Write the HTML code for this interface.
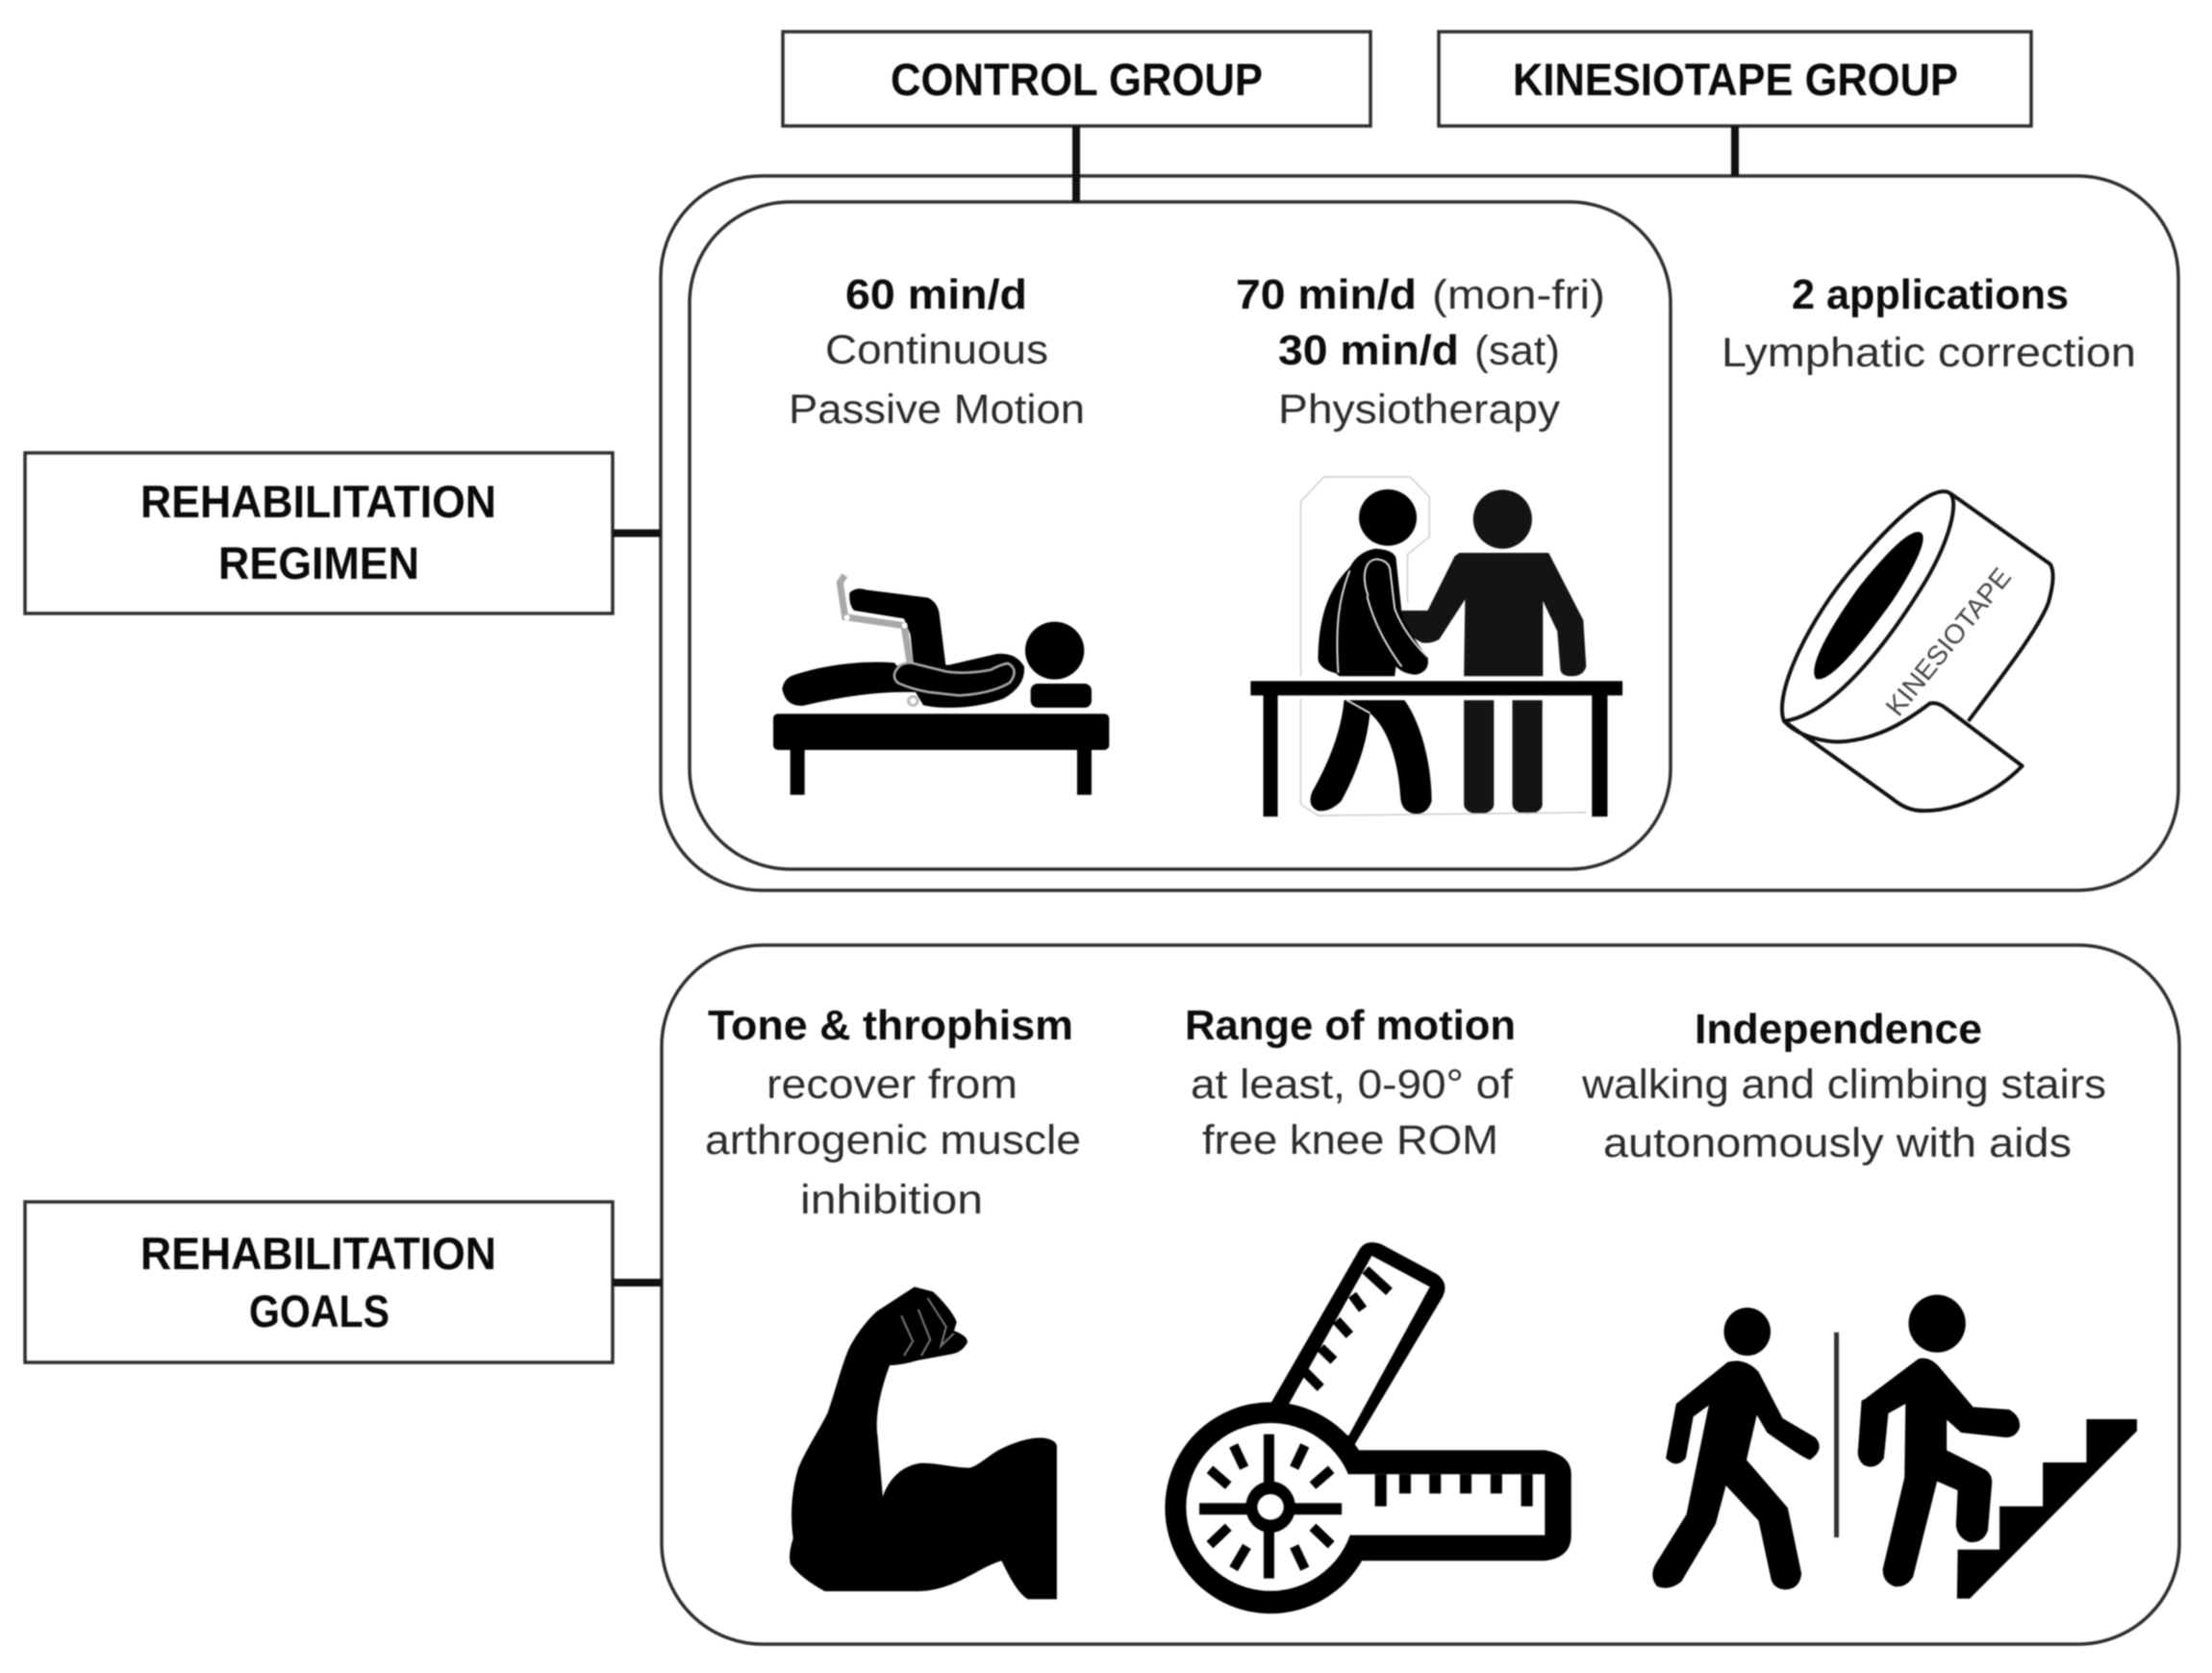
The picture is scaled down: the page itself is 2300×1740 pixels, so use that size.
<!DOCTYPE html>
<html><head><meta charset="utf-8">
<style>
html,body{margin:0;padding:0;background:#fff}
svg{display:block;filter:blur(.9px)}
text{font-family:"Liberation Sans",sans-serif;font-size:43px;fill:#2b2b2b}
.b{font-weight:bold;fill:#0c0c0c;font-size:44px}
.h{font-weight:bold;fill:#0a0a0a;font-size:47px}
.nss{vector-effect:non-scaling-stroke}
</style></head><body>
<svg xmlns="http://www.w3.org/2000/svg" width="2300" height="1740" viewBox="0 0 2300 1740">
<rect width="2300" height="1740" fill="#fff"/>
<g fill="#fff" stroke="#2e2e2e" stroke-width="3.5">
<rect x="814" y="33" width="611" height="98"/>
<rect x="1496" y="33" width="616" height="98"/>
<rect x="26" y="471" width="611" height="167"/>
<rect x="26" y="1250" width="611" height="167"/>
<rect x="687" y="183" width="1578" height="743" rx="105"/>
<rect x="717" y="210" width="1020" height="694" rx="105"/>
<rect x="688" y="983" width="1578" height="727" rx="105"/>
</g>
<g stroke="#111" stroke-width="8" fill="none">
<path d="M1119 131V210M1804 131V183M637 554.500H687M637 1334H688"/>
</g>

<g>
<text class="h" x="926" y="99" textLength="387" lengthAdjust="spacingAndGlyphs">CONTROL GROUP</text>
<text class="h" x="1573" y="99" textLength="463" lengthAdjust="spacingAndGlyphs">KINESIOTAPE GROUP</text>
<text class="h" x="146" y="538" textLength="370" lengthAdjust="spacingAndGlyphs">REHABILITATION</text>
<text class="h" x="227" y="602" textLength="209" lengthAdjust="spacingAndGlyphs">REGIMEN</text>
<text class="h" x="146" y="1320" textLength="370" lengthAdjust="spacingAndGlyphs">REHABILITATION</text>
<text class="h" x="259" y="1380" textLength="146" lengthAdjust="spacingAndGlyphs">GOALS</text>

<text class="b" x="879" y="321" textLength="189" lengthAdjust="spacingAndGlyphs">60 min/d</text>
<text x="858" y="378" textLength="232" lengthAdjust="spacingAndGlyphs">Continuous</text>
<text x="820" y="440" textLength="308" lengthAdjust="spacingAndGlyphs">Passive Motion</text>
<text class="b" x="1285" y="321" textLength="188" lengthAdjust="spacingAndGlyphs">70 min/d</text>
<text x="1489" y="321" textLength="180" lengthAdjust="spacingAndGlyphs">(mon-fri)</text>
<text class="b" x="1329" y="379" textLength="188" lengthAdjust="spacingAndGlyphs">30 min/d</text>
<text x="1533" y="379" textLength="89" lengthAdjust="spacingAndGlyphs">(sat)</text>
<text x="1329" y="440" textLength="293" lengthAdjust="spacingAndGlyphs">Physiotherapy</text>
<text class="b" x="1863" y="321" textLength="288" lengthAdjust="spacingAndGlyphs">2 applications</text>
<text x="1790" y="381" textLength="431" lengthAdjust="spacingAndGlyphs">Lymphatic correction</text>

<text class="b" x="736" y="1081" textLength="380" lengthAdjust="spacingAndGlyphs">Tone &amp; throphism</text>
<text x="797" y="1142" textLength="261" lengthAdjust="spacingAndGlyphs">recover from</text>
<text x="733" y="1200" textLength="391" lengthAdjust="spacingAndGlyphs">arthrogenic muscle</text>
<text x="832" y="1262" textLength="190" lengthAdjust="spacingAndGlyphs">inhibition</text>
<text class="b" x="1232" y="1081" textLength="344" lengthAdjust="spacingAndGlyphs">Range of motion</text>
<text x="1238" y="1142" textLength="335" lengthAdjust="spacingAndGlyphs">at least, 0-90° of</text>
<text x="1250" y="1200" textLength="308" lengthAdjust="spacingAndGlyphs">free knee ROM</text>
<text class="b" x="1762" y="1085" textLength="299" lengthAdjust="spacingAndGlyphs">Independence</text>
<text x="1645" y="1142" textLength="545" lengthAdjust="spacingAndGlyphs">walking and climbing stairs</text>
<text x="1667" y="1203" textLength="487" lengthAdjust="spacingAndGlyphs">autonomously with aids</text>
</g>

<!-- patient -->
<g transform="translate(790,580) scale(.3333)">
<rect x="42" y="487" width="1048" height="113" rx="15"/>
<rect x="95" y="590" width="45" height="150"/>
<rect x="990" y="590" width="45" height="150"/>
<ellipse cx="920" cy="290" rx="92" ry="90"/>
<rect x="845" y="393" width="190" height="75" rx="22"/>
<path d="M70,410 Q75,375 110,365 C200,335 320,320 420,328 L500,420 C370,415 250,435 135,462 Q80,465 70,410 Z"/>
<path d="M280,110 Q300,90 330,100 L525,125 Q555,140 560,175 L580,335 L480,335 L470,240 L450,190 L295,165 Q278,150 280,110Z"/>
<path d="M420,345 Q440,325 480,328 L590,335 L740,300 Q800,295 825,340 Q830,400 760,440 C680,470 570,475 510,460 L480,410 L430,395 Z"/>
<g fill="none" stroke="#a8a8a8">
<path stroke-width="21" d="M265,55 L250,78 L266,185 L450,212 L468,325"/>
<path stroke-width="8" d="M440,335 Q405,365 430,390 Q470,410 530,420 L620,430 Q720,425 780,390 Q810,350 775,330 Q760,330 720,350 Q640,365 580,355 L480,330 Q460,325 440,335 Z"/>
<circle cx="478" cy="447" r="14" fill="#fff" stroke-width="9" stroke="#bbb"/>
</g>
<circle cx="272" cy="187" r="9" fill="#fff"/>
<circle cx="452" cy="212" r="9" fill="#fff"/>
</g>

<!-- physio icon -->
<g transform="translate(780,480) scale(.5995,.3333)">
<rect x="868" y="685" width="645" height="45"/>
<rect x="890" y="728" width="25" height="380"/>
<rect x="1460" y="728" width="27" height="380"/>
<ellipse cx="1106" cy="175" rx="50" ry="88"/>
<g fill="#141414">
<ellipse cx="1305" cy="180" rx="51" ry="92"/>
<path d="M1230,285 L1385,285 L1445,495 L1450,640 Q1445,670 1425,670 Q1405,670 1405,645 L1400,530 L1375,435 L1375,670 L1238,670 L1240,430 L1195,555 Q1180,570 1165,565 L1130,530 L1130,465 L1175,465 L1222,295 Z"/>
<path d="M1238,745 H1290 V1070 A26,30 0 0 1 1238,1070Z"/>
<path d="M1322,745 H1374 V1070 A26,30 0 0 1 1322,1070Z"/>
</g>
<path d="M1085,272 Q1115,275 1120,300 L1130,470 Q1140,530 1175,610 Q1180,655 1155,665 Q1135,665 1120,640 L1118,670 L1022,670 L1015,660 Q990,650 985,620 C985,500 1000,400 1040,330 Q1055,280 1085,272Z"/>
<path d="M1030,745 L1135,745 C1165,820 1182,950 1182,1060 Q1175,1100 1155,1100 Q1130,1095 1128,1050 C1125,950 1110,840 1075,785 C1070,880 1050,980 1025,1060 Q1005,1095 985,1090 Q965,1075 975,1030 C1000,950 1025,850 1030,745Z"/>
<g fill="none" stroke="#ddd" stroke-width="2">
<path class="nss" d="M1020,660 C1015,520 1020,430 1040,340"/>
<path class="nss" d="M1072,420 C1060,360 1065,305 1088,305 Q1108,310 1110,340 L1118,460 Q1135,540 1175,610"/>
<path class="nss" d="M1070,420 Q1085,530 1130,640"/>
<path class="nss" d="M1035,745 L1075,785"/>
</g>
<path class="nss" fill="none" stroke="#ccc" stroke-width="1.500" d="M1145,48 L995,48 L955,125 L955,670 M955,740 L955,1070 L985,1105 L1450,1095 M1145,48 L1178,110 L1178,235 L1140,290 L1140,440"/>
</g>

<!-- tape icon -->
<g transform="translate(1820,480) scale(.3333)" stroke="#111" stroke-width="12" fill="#fff" stroke-linejoin="round">
<path fill="none" d="M625,100 L935,320 Q955,350 930,440 C900,520 800,650 680,810"/>
<path d="M105,810 C70,720 190,480 330,320 C450,180 560,80 615,95 C660,110 620,260 530,400 C430,560 260,790 105,810 Z"/>
<path fill="#000" stroke="none" d="M205,678 C175,640 260,500 340,390 C420,290 500,205 532,222 C560,240 500,350 440,440 C360,550 250,695 205,678 Z"/>
<text transform="translate(462,800) rotate(-51)" x="0" y="0" textLength="565" lengthAdjust="spacingAndGlyphs" style="font-size:84px;fill:#444;stroke:none">KINESIOTAPE</text>
<path d="M105,810 C150,860 250,885 320,870 C420,855 500,800 560,755 Q585,750 610,770 L848,950 C760,1040 640,1090 540,1090 C500,1090 470,1075 440,1050 Z"/>
</g>

<!-- arm + goniometer -->
<g transform="translate(800,1280) scale(.5485,.3333)">
<path d="M275,175 L310,190 C330,220 350,260 355,285 L350,312 Q378,330 375,350 Q365,380 345,385 L280,405 Q250,420 228,420 C210,500 200,580 205,640 L215,830 C225,780 250,730 290,725 C320,725 350,740 380,740 C400,730 420,695 440,680 C465,660 500,640 525,648 Q545,655 545,675 L545,1150 L490,1150 C470,1130 455,1080 440,1030 C410,1045 380,1080 350,1100 C320,1120 300,1125 280,1125 L105,1125 Q60,1085 40,1040 Q35,1010 45,960 C40,900 40,820 55,740 C70,680 95,620 110,570 C125,500 135,430 150,370 C165,320 190,270 205,250 Z"/>
<g fill="none" stroke="#777" stroke-width="2">
<path class="nss" d="M250,265 L272,345 L255,390"/>
<path class="nss" d="M282,245 L305,340 L288,390"/>
<path class="nss" d="M300,210 L335,300 L325,360 L350,320"/>
</g>
<path d="M1118,60 Q1130,25 1160,42 L1265,135 Q1290,165 1275,210 L1105,680 L950,540 Z"/>
<path fill="#fff" d="M1142,78 L1252,175 L1098,640 L985,540 Z"/>
<path d="M1090,685 L1470,685 Q1520,700 1520,760 L1520,950 Q1520,1020 1470,1030 L1090,1030 Z"/>
<ellipse cx="950" cy="865" rx="200" ry="330"/>
<ellipse cx="950" cy="862" rx="160" ry="262" fill="#fff"/>
<path fill="#fff" d="M1080,760 L1470,760 L1470,950 L1080,950Z"/>
<g fill="none" stroke="#000" stroke-width="10">
<path class="nss" d="M1130,122 L1175,190 M1105,200 L1125,245 M1075,280 L1100,325 M1045,365 L1070,405 M1015,440 L1045,490"/>
<path class="nss" d="M880,670 L900,740 M1015,670 L995,740 M835,745 L870,795 M1065,745 L1030,795 M835,980 L870,925 M1065,980 L1030,925 M880,1055 L905,985 M1015,1055 L995,985"/>
</g>
<rect x="1148" y="760" width="22" height="100"/>
<rect x="1194" y="760" width="22" height="60"/>
<rect x="1251" y="760" width="22" height="60"/>
<rect x="1309" y="760" width="22" height="60"/>
<rect x="1367" y="760" width="22" height="60"/>
<rect x="1425" y="760" width="22" height="100"/>
<rect x="937" y="635" width="20" height="450"/>
<rect x="815" y="850" width="270" height="36"/>
<ellipse cx="950" cy="862" rx="47" ry="80"/>
<ellipse cx="950" cy="862" rx="25" ry="40" fill="#fff"/>
</g>

<!-- walkers -->
<g transform="translate(1700,1320) scale(.357,.3333)">
<ellipse cx="327" cy="195" rx="68" ry="75"/>
<ellipse cx="880" cy="170" rx="83" ry="90"/>
<rect x="580" y="197" width="14" height="640" fill="#333"/>
<path d="M270,290 Q320,275 360,320 L430,465 L525,525 Q555,560 510,595 Q490,590 385,510 L355,455 L325,595 L445,745 L485,950 Q480,1000 435,1000 Q400,995 395,960 L360,785 L265,675 L235,795 L135,975 Q100,1005 65,990 Q40,960 60,920 L150,765 L215,425 L170,460 L148,590 Q120,625 90,590 L120,420 Z"/>
<path d="M670,405 L825,280 Q860,270 890,310 L985,430 L1090,438 Q1125,460 1120,495 Q1110,525 1080,525 L950,510 L908,470 L908,565 L1020,625 Q1040,640 1040,665 L1028,815 Q1015,855 975,852 Q940,840 935,800 L940,690 L880,662 L810,960 Q790,995 755,990 Q720,975 722,935 L785,650 L788,420 L738,450 L725,590 Q700,630 665,610 Q645,590 650,560 L660,410 Z"/>
<path d="M940,875 H1062 V740 H1188 V603 H1315 V468 H1462 V505 L975,1028 H938 Z"/>
</g>
</svg>
</body></html>
